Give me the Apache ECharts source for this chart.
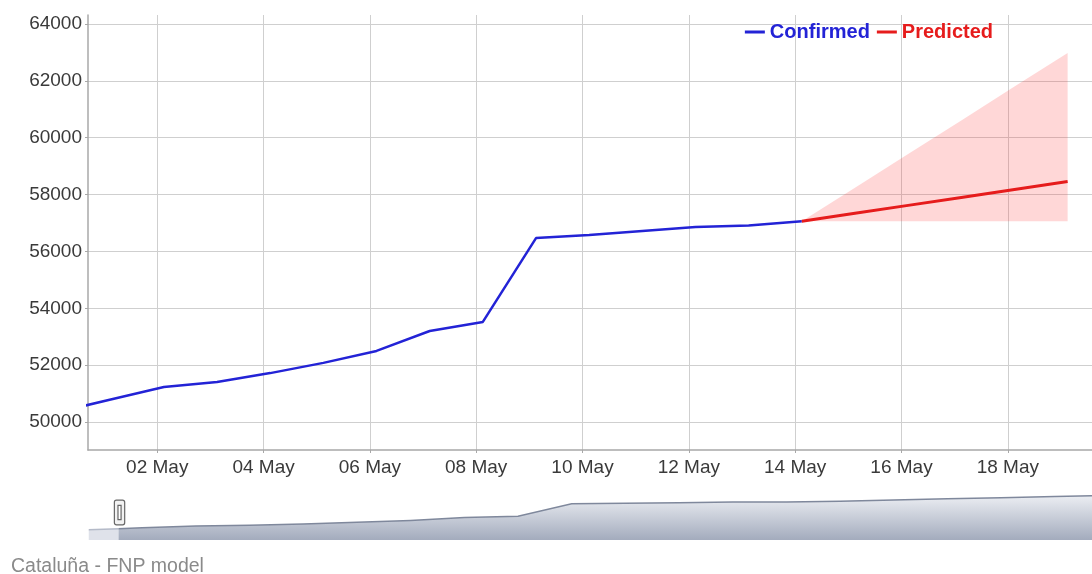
<!DOCTYPE html>
<html>
<head>
<meta charset="utf-8">
<title>Cataluña - FNP model</title>
<script src="https://cdn.jsdelivr.net/npm/echarts@6/dist/echarts.min.js"></script>
<style>
  html, body { margin: 0; padding: 0; background: #fff; }
  #chart { width: 1092px; height: 574px; }
</style>
</head>
<body>
<div id="chart"></div>
<script>
// confirmed cases (daily report, ~03:00 UTC)
var confirmedDates = ['2020-04-30', '2020-05-01', '2020-05-02', '2020-05-03', '2020-05-04', '2020-05-05',
  '2020-05-06', '2020-05-07', '2020-05-08', '2020-05-09', '2020-05-10', '2020-05-11', '2020-05-12',
  '2020-05-13', '2020-05-14'];
var confirmedValues = [50350, 50790, 51230, 51410, 51720, 52080, 52500, 53200, 53520, 56470, 56580,
  56720, 56860, 56910, 57060];

// model prediction + band
var predictedDates = ['2020-05-14', '2020-05-15', '2020-05-16', '2020-05-17', '2020-05-18', '2020-05-19'];
var predictedValues = [57060, 57340, 57620, 57900, 58180, 58460];
var bandLower = [57060, 57060, 57060, 57060, 57060, 57060];
var bandUpper = [57060, 58240, 59430, 60610, 61800, 62980];

var reportTime = 'T03:00:00Z';

// axis ticks
var yTicks = [50000, 52000, 54000, 56000, 58000, 60000, 62000, 64000];
var xTickDates = ['2020-05-02', '2020-05-04', '2020-05-06', '2020-05-08', '2020-05-10', '2020-05-12',
  '2020-05-14', '2020-05-16', '2020-05-18'];
var monthNames = ['Jan', 'Feb', 'Mar', 'Apr', 'May', 'Jun', 'Jul', 'Aug', 'Sep', 'Oct', 'Nov', 'Dec'];

// visible window
var viewStart = '2020-04-30T16:45:00Z';
var viewEnd = '2020-05-19T14:00:00Z';

function t(s) { return new Date(s).getTime(); }
function pairs(dates, vals) {
  return dates.map(function (d, i) { return [t(d + reportTime), vals[i]]; });
}

var xTicks = xTickDates.map(function (d) { return t(d + 'T00:00:00Z'); });
var confirmedData = pairs(confirmedDates, confirmedValues);
var predictedData = pairs(predictedDates, predictedValues);
var bandData = predictedDates.map(function (d, i) { return [t(d + reportTime), bandLower[i], bandUpper[i]]; });
// whole series, only used for the range selector shadow
var allData = confirmedData.concat(predictedData.slice(1));

var font = 'Liberation Sans, Arial, sans-serif';
var blue = '#2323d6';
var red = '#e61c1c';

var chart = echarts.init(document.getElementById('chart'));

// draws the prediction band as one polygon (upper edge, then lower edge back)
function renderBand(params, api) {
  if (params.dataIndex !== 0) return;
  var top = [], bottom = [];
  for (var i = 0; i < bandData.length; i++) {
    top.push(api.coord([bandData[i][0], bandData[i][2]]));
    bottom.unshift(api.coord([bandData[i][0], bandData[i][1]]));
  }
  return {
    type: 'polygon',
    shape: { points: top.concat(bottom) },
    style: { fill: 'rgba(255, 40, 40, 0.19)' }
  };
}

var option = {
  animation: false,
  backgroundColor: '#fff',
  title: {
    text: 'Cataluña - FNP model',
    left: 6,
    top: 552,
    textStyle: { fontFamily: font, fontSize: 19.5, fontWeight: 'normal', color: '#8a8a8a' }
  },
  legend: {
    right: 94,
    top: 17,
    icon: 'rect',
    itemWidth: 20,
    itemHeight: 3,
    itemGap: 7,
    textStyle: { fontFamily: font, fontSize: 20, fontWeight: 'bold' },
    data: [
      { name: 'Confirmed', textStyle: { color: blue } },
      { name: 'Predicted', textStyle: { color: red } }
    ]
  },
  grid: { left: 88, right: 0, top: 15, bottom: 124 },
  xAxis: {
    type: 'value',
    min: t(confirmedDates[0] + reportTime),
    max: t(viewEnd),
    axisLine: { show: true, lineStyle: { color: '#a8a8a8', width: 1.5 } },
    axisTick: { show: true, length: 3, customValues: xTicks, lineStyle: { color: '#a8a8a8' } },
    axisLabel: {
      customValues: xTicks,
      margin: 8,
      fontFamily: font,
      fontSize: 19,
      color: '#3a3a3a',
      formatter: function (v) {
        var d = new Date(v);
        var day = d.getUTCDate();
        return (day < 10 ? '0' + day : day) + ' ' + monthNames[d.getUTCMonth()];
      }
    },
    splitLine: { show: true, lineStyle: { color: '#cfcfcf', width: 1 } }
  },
  yAxis: {
    type: 'value',
    min: 49015,
    max: 64317,
    axisLine: { show: true, lineStyle: { color: '#a8a8a8', width: 1.5 } },
    axisTick: { show: true, length: 3, customValues: yTicks, lineStyle: { color: '#a8a8a8' } },
    axisLabel: {
      customValues: yTicks, margin: 6, fontFamily: font, fontSize: 19, color: '#3a3a3a',
      formatter: function (v) { return String(v); }
    },
    splitLine: { show: true, lineStyle: { color: '#cfcfcf', width: 1 } }
  },
  dataZoom: [{
    type: 'slider',
    xAxisIndex: 0,
    filterMode: 'none',
    startValue: t(viewStart),
    endValue: t(viewEnd),
    left: 86,
    right: -14,
    top: 485,
    height: 55,
    showDetail: false,
    brushSelect: false,
    moveHandleSize: 0,
    backgroundColor: '#fff',
    borderColor: 'transparent',
    fillerColor: 'rgba(0, 0, 0, 0)',
    handleIcon: 'path://M2,0 H8 A2,2 0 0 1 10,2 V22 A2,2 0 0 1 8,24 H2 A2,2 0 0 1 0,22 V2 A2,2 0 0 1 2,0 Z M3.5,5 V19 H6.5 V5 Z',
    handleSize: '45%',
    handleStyle: { color: '#f2f2f2', borderColor: '#666', borderWidth: 1.2 },
    dataBackground: {
      lineStyle: { color: '#b4bac8', width: 1.5, opacity: 1 },
      areaStyle: { color: '#dfe2ea', opacity: 1 }
    },
    selectedDataBackground: {
      lineStyle: { color: '#7f889c', width: 1.5, opacity: 1 },
      areaStyle: {
        opacity: 1,
        color: {
          type: 'linear', x: 0, y: 0, x2: 0, y2: 1,
          colorStops: [
            { offset: 0, color: '#a3abbd' },
            { offset: 1, color: '#eceef3' }
          ]
        }
      }
    }
  }],
  series: [
    {
      name: 'all',
      type: 'line',
      data: allData,
      symbol: 'none',
      silent: true,
      lineStyle: { opacity: 0 },
      z: 0
    },
    {
      name: 'band',
      type: 'custom',
      data: bandData,
      encode: { x: 0, y: [1, 2] },
      renderItem: renderBand,
      clip: true,
      silent: true,
      z: 1
    },
    {
      name: 'Confirmed',
      type: 'line',
      data: confirmedData,
      symbol: 'none',
      color: blue,
      lineStyle: { color: blue, width: 2.5 }
    },
    {
      name: 'Predicted',
      type: 'line',
      data: predictedData,
      symbol: 'none',
      color: red,
      lineStyle: { color: red, width: 3 }
    }
  ]
};

chart.setOption(option);
</script>
</body>
</html>
